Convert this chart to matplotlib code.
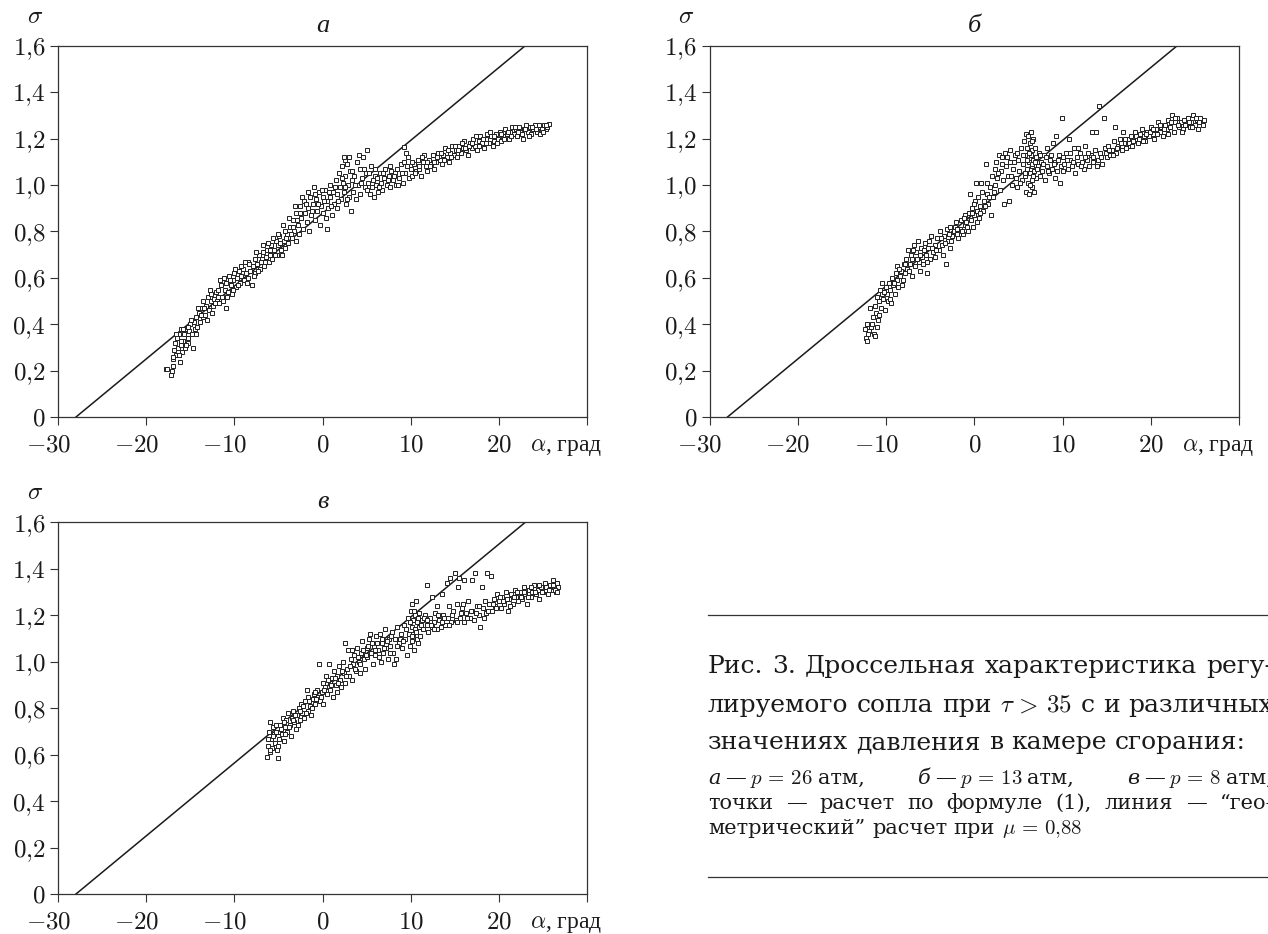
import numpy as np
import matplotlib.pyplot as plt
from matplotlib.lines import Line2D

plt.rcParams['mathtext.fontset'] = 'cm'
plt.rcParams['font.family'] = ['Liberation Serif', 'DejaVu Serif']

# geometric throttle line (same for all three pressures)
line_alpha = [-28.0, 23.0]
line_sigma = [0.0, 1.6]

alpha_ticks = [-30, -20, -10, 0, 10, 20]
sigma_ticks = [0, 0.2, 0.4, 0.6, 0.8, 1.0, 1.2, 1.4, 1.6]
sigma_labels = ['$0$', '$0{,}2$', '$0{,}4$', '$0{,}6$', '$0{,}8$',
                '$1{,}0$', '$1{,}2$', '$1{,}4$', '$1{,}6$']

# p = 26 atm: (alpha, sigma)
a_points = [
    (-17.8, 0.21), (-17.6, 0.21), (-17.2, 0.18), (-17.1, 0.20), (-16.9, 0.22), (-17.0, 0.25),
    (-16.8, 0.29), (-16.7, 0.32), (-16.6, 0.27), (-16.5, 0.34), (-16.4, 0.30), (-16.3, 0.36),
    (-16.2, 0.24), (-16.1, 0.31), (-16.0, 0.38), (-15.9, 0.28), (-15.8, 0.33), (-15.7, 0.36),
    (-15.6, 0.30), (-15.5, 0.38), (-15.3, 0.34), (-15.2, 0.32), (-15.1, 0.37), (-15.0, 0.40),
    (-14.7, 0.30), (-14.8, 0.36), (-14.6, 0.41), (-14.5, 0.38), (-14.3, 0.43), (-14.2, 0.39),
    (-14.0, 0.45), (-13.9, 0.41), (-13.7, 0.47), (-13.6, 0.43), (-13.5, 0.50), (-13.3, 0.44),
    (-13.2, 0.48), (-13.0, 0.52), (-12.9, 0.46), (-12.7, 0.50), (-12.6, 0.53), (-12.4, 0.48),
    (-12.3, 0.51), (-12.1, 0.54), (-12.0, 0.50), (-11.8, 0.55), (-11.7, 0.49), (-11.5, 0.57),
    (-11.4, 0.52), (-11.2, 0.60), (-11.1, 0.55), (-11.0, 0.47), (-10.9, 0.58), (-10.7, 0.54),
    (-10.6, 0.61), (-10.4, 0.57), (-10.3, 0.53), (-10.1, 0.59), (-10.0, 0.62), (-9.8, 0.56),
    (-9.7, 0.60), (-9.5, 0.63), (-9.4, 0.58), (-9.2, 0.61), (-9.0, 0.64), (-8.9, 0.59),
    (-8.7, 0.62), (-8.5, 0.67), (-8.4, 0.60), (-8.2, 0.63), (-8.0, 0.57), (-7.9, 0.65),
    (-7.7, 0.68), (-7.6, 0.62), (-7.4, 0.66), (-7.2, 0.70), (-7.1, 0.64), (-6.9, 0.68),
    (-6.8, 0.71), (-6.6, 0.65), (-6.4, 0.69), (-6.3, 0.72), (-6.1, 0.67), (-6.0, 0.70),
    (-5.8, 0.74), (-5.7, 0.68), (-5.5, 0.72), (-5.3, 0.76), (-5.2, 0.70), (-5.0, 0.74),
    (-4.9, 0.78), (-4.7, 0.72), (-4.5, 0.83), (-4.4, 0.76), (-4.2, 0.73), (-4.0, 0.79),
    (-3.9, 0.75), (-3.7, 0.82), (-3.5, 0.77), (-3.4, 0.85), (-3.2, 0.80), (-3.0, 0.76),
    (-3.0, 0.88), (-2.8, 0.83), (-2.7, 0.79), (-2.5, 0.91), (-2.4, 0.86), (-2.2, 0.81),
    (-2.1, 0.93), (-2.0, 0.88), (-1.8, 0.84), (-1.7, 0.90), (-1.5, 0.80), (-1.4, 0.95),
    (-1.3, 0.87), (-1.1, 0.92), (-1.0, 0.99), (-0.9, 0.85), (-0.7, 0.94), (-0.6, 0.89),
    (-0.4, 0.97), (-0.3, 0.83), (-0.2, 0.91), (0.0, 0.95), (0.1, 0.88), (0.5, 0.81),
    (0.3, 0.98), (0.5, 0.93), (0.6, 0.90), (0.8, 1.00), (0.9, 0.95), (1.1, 0.87),
    (1.2, 0.97), (1.3, 0.92), (1.5, 1.02), (1.6, 0.96), (1.7, 0.90), (1.9, 1.05),
    (2.0, 0.99), (2.1, 0.94), (2.2, 1.08), (2.3, 1.01), (2.4, 0.97), (2.5, 1.11),
    (2.6, 1.04), (2.7, 0.92), (2.8, 1.09), (2.9, 1.00), (3.0, 0.95), (3.1, 1.06),
    (3.2, 0.89), (3.3, 1.02), (3.5, 0.97), (3.6, 1.04), (3.8, 0.94), (3.9, 1.10),
    (4.0, 1.00), (4.2, 1.07), (4.3, 0.96), (4.5, 1.03), (4.6, 1.12), (4.8, 0.99),
    (4.9, 1.05), (5.0, 1.15), (5.2, 1.01), (5.4, 0.96), (5.5, 1.08), (5.7, 1.02),
    (5.8, 0.95), (6.0, 1.04), (6.1, 1.00), (6.3, 0.97), (6.5, 1.05), (6.6, 1.01),
    (6.8, 0.98), (7.0, 1.03), (7.1, 1.07), (7.3, 1.00), (7.5, 1.04), (7.6, 0.99),
    (7.8, 1.06), (8.0, 1.02), (8.2, 1.05), (8.3, 1.00), (8.5, 1.07), (8.7, 1.03),
    (8.9, 1.09), (9.1, 1.01), (9.2, 1.165), (9.4, 1.05), (9.5, 1.14), (9.6, 1.08),
    (9.8, 1.03), (10.0, 1.07), (10.2, 1.04), (10.4, 1.09), (10.6, 1.06), (10.8, 1.11),
    (11.0, 1.07), (11.2, 1.04), (11.4, 1.10), (11.5, 1.13), (11.7, 1.08), (11.9, 1.06),
    (12.1, 1.11), (12.3, 1.09), (12.5, 1.13), (12.7, 1.07), (12.9, 1.10), (13.1, 1.14),
    (13.3, 1.11), (13.5, 1.09), (13.7, 1.13), (13.9, 1.16), (14.1, 1.12), (14.3, 1.10),
    (14.5, 1.14), (14.7, 1.17), (14.9, 1.13), (15.1, 1.15), (15.3, 1.12), (15.5, 1.17),
    (15.7, 1.14), (15.9, 1.16), (16.1, 1.19), (16.3, 1.15), (16.5, 1.13), (16.7, 1.18),
    (16.9, 1.16), (17.1, 1.20), (17.3, 1.17), (17.5, 1.15), (17.7, 1.19), (17.9, 1.21),
    (18.1, 1.18), (18.3, 1.16), (18.5, 1.20), (18.7, 1.22), (18.9, 1.18), (19.1, 1.21),
    (19.3, 1.17), (19.5, 1.19), (19.7, 1.22), (19.9, 1.20), (20.1, 1.23), (20.3, 1.19),
    (20.5, 1.21), (20.7, 1.24), (20.9, 1.22), (21.1, 1.20), (21.3, 1.23), (21.5, 1.25),
    (21.7, 1.22), (21.9, 1.24), (22.1, 1.21), (22.3, 1.25), (22.5, 1.23), (22.7, 1.20),
    (22.9, 1.24), (23.1, 1.26), (23.3, 1.23), (23.5, 1.25), (23.7, 1.22), (23.9, 1.24),
    (24.1, 1.26), (24.3, 1.23), (24.5, 1.25), (24.7, 1.22), (24.9, 1.24), (25.1, 1.26),
    (25.3, 1.24), (25.5, 1.25), (25.7, 1.265),
    (-16.9, 0.26), (-16.6, 0.36), (-16.3, 0.27), (-16.0, 0.33), (-15.8, 0.38), (-15.5, 0.31),
    (-15.2, 0.39), (-14.9, 0.42), (-14.4, 0.36), (-14.1, 0.47), (-13.8, 0.44), (-13.4, 0.47),
    (-13.1, 0.42), (-12.8, 0.55), (-12.5, 0.45), (-12.2, 0.49), (-11.9, 0.52), (-11.6, 0.59),
    (-11.3, 0.50), (-10.8, 0.52), (-10.5, 0.59), (-10.2, 0.55), (-9.9, 0.64), (-9.6, 0.57),
    (-9.3, 0.65), (-8.8, 0.67), (-8.6, 0.58), (-8.3, 0.66), (-7.8, 0.61), (-7.5, 0.71),
    (-7.3, 0.63), (-7.0, 0.67), (-6.7, 0.74), (-6.5, 0.67), (-6.2, 0.75), (-5.9, 0.72),
    (-5.6, 0.77), (-5.4, 0.70), (-5.1, 0.79), (-4.8, 0.75), (-4.6, 0.70), (-4.3, 0.80),
    (-4.1, 0.77), (-3.8, 0.86), (-3.6, 0.79), (-3.3, 0.82), (-3.1, 0.91), (-2.9, 0.85),
    (-2.6, 0.88), (-2.3, 0.95), (-1.9, 0.92), (-1.6, 0.97), (-1.2, 0.89), (-0.8, 0.96),
    (-0.5, 0.92), (-0.1, 0.98), (0.2, 0.93), (0.4, 0.86), (0.7, 0.97), (1.0, 0.91),
    (1.4, 0.99), (1.8, 0.93), (2.2, 1.03), (2.4, 1.12), (2.6, 0.99), (2.8, 0.94),
    (3.0, 1.12), (3.4, 1.06), (3.7, 1.00), (4.1, 1.13), (4.4, 1.01), (4.7, 1.07),
    (5.1, 0.98), (5.3, 1.05), (5.6, 0.99), (5.9, 1.07), (6.2, 1.03), (6.4, 0.99),
    (6.9, 1.05), (7.4, 1.02), (7.7, 1.08), (8.1, 1.04), (8.6, 1.00), (9.0, 1.05),
    (9.3, 1.10), (9.7, 1.12), (10.1, 1.10), (10.5, 1.05), (10.9, 1.08), (11.3, 1.12),
    (11.8, 1.10), (12.2, 1.08), (12.6, 1.10), (13.0, 1.12), (13.4, 1.14), (13.8, 1.11),
    (14.2, 1.15), (14.6, 1.12), (15.0, 1.17), (15.4, 1.15), (15.8, 1.18), (16.2, 1.16),
    (16.6, 1.17), (17.0, 1.18), (17.4, 1.21), (17.8, 1.17), (18.2, 1.20), (18.6, 1.18),
    (19.0, 1.23), (19.4, 1.21), (19.8, 1.18), (20.2, 1.22), (20.6, 1.20), (21.0, 1.23),
    (21.4, 1.21), (21.8, 1.25), (22.2, 1.23), (22.6, 1.22), (23.0, 1.24), (23.4, 1.21),
    (23.8, 1.25), (24.2, 1.24), (24.6, 1.26), (25.0, 1.23), (25.4, 1.26),
]

# p = 13 atm
b_points = [
    (-12.4, 0.38), (-12.3, 0.34), (-12.2, 0.40), (-12.1, 0.33), (-11.9, 0.37), (-11.8, 0.47),
    (-11.7, 0.39), (-11.5, 0.43), (-11.4, 0.36), (-11.3, 0.48), (-11.2, 0.35), (-11.1, 0.45),
    (-11.0, 0.52), (-10.9, 0.42), (-10.8, 0.50), (-10.7, 0.55), (-10.6, 0.47), (-10.5, 0.53),
    (-10.4, 0.58), (-10.3, 0.51), (-10.1, 0.46), (-10.0, 0.56), (-9.9, 0.53), (-9.8, 0.50),
    (-9.7, 0.58), (-9.5, 0.55), (-9.4, 0.49), (-9.3, 0.60), (-9.2, 0.57), (-9.0, 0.53),
    (-8.9, 0.62), (-8.8, 0.59), (-8.7, 0.65), (-8.6, 0.56), (-8.4, 0.61), (-8.3, 0.63),
    (-8.1, 0.59), (-8.0, 0.66), (-7.9, 0.62), (-7.7, 0.68), (-7.6, 0.64), (-7.5, 0.72),
    (-7.3, 0.66), (-7.2, 0.70), (-7.1, 0.61), (-7.0, 0.68), (-6.8, 0.74), (-6.7, 0.65),
    (-6.6, 0.71), (-6.4, 0.76), (-6.3, 0.67), (-6.2, 0.63), (-6.0, 0.73), (-5.9, 0.69),
    (-5.8, 0.66), (-5.6, 0.75), (-5.5, 0.70), (-5.3, 0.62), (-5.2, 0.73), (-5.0, 0.68),
    (-4.9, 0.78), (-4.7, 0.71), (-4.5, 0.74), (-4.4, 0.69), (-4.2, 0.77), (-4.0, 0.72),
    (-3.9, 0.80), (-3.7, 0.74), (-3.5, 0.70), (-3.4, 0.78), (-3.2, 0.66), (-3.1, 0.81),
    (-3.0, 0.76), (-2.8, 0.73), (-2.7, 0.82), (-2.5, 0.78), (-2.3, 0.80), (-2.1, 0.84),
    (-2.0, 0.79), (-1.8, 0.77), (-1.6, 0.81), (-1.5, 0.85), (-1.3, 0.79), (-1.1, 0.83),
    (-1.0, 0.87), (-0.8, 0.82), (-0.6, 0.88), (-0.5, 0.96), (-0.4, 0.85), (-0.2, 0.90),
    (-0.1, 0.82), (0.0, 0.87), (0.1, 0.93), (0.2, 1.01), (0.3, 0.89), (0.4, 0.95),
    (0.5, 0.86), (0.6, 0.91), (0.8, 1.01), (0.9, 0.97), (1.0, 0.89), (1.1, 0.93),
    (1.3, 1.09), (1.4, 0.96), (1.5, 1.01), (1.6, 0.92), (1.8, 0.99), (1.9, 0.87),
    (2.0, 1.04), (2.1, 0.95), (2.3, 1.07), (2.4, 1.00), (2.5, 1.10), (2.6, 1.03),
    (2.8, 1.13), (2.9, 0.98), (3.0, 1.06), (3.2, 1.12), (3.3, 1.02), (3.4, 0.92),
    (3.5, 1.14), (3.6, 1.08), (3.8, 1.04), (3.9, 0.93), (4.0, 1.15), (4.1, 1.10),
    (4.3, 1.00), (4.4, 1.07), (4.6, 1.13), (4.7, 1.03), (4.9, 0.99), (5.0, 1.11),
    (5.1, 1.06), (5.3, 1.16), (5.4, 1.02), (5.5, 1.09), (5.6, 1.19), (5.7, 1.04),
    (5.8, 1.13), (5.9, 0.97), (5.9, 1.22), (6.0, 1.07), (6.0, 1.16), (6.1, 1.01),
    (6.1, 1.21), (6.2, 1.10), (6.2, 0.96), (6.3, 1.18), (6.3, 1.05), (6.4, 1.13),
    (6.4, 1.23), (6.5, 0.99), (6.5, 1.08), (6.6, 1.15), (6.6, 1.02), (6.7, 1.20),
    (6.7, 1.11), (6.8, 0.97), (6.8, 1.06), (6.9, 1.16), (7.0, 1.03), (7.0, 1.12),
    (7.2, 1.08), (7.3, 1.14), (7.4, 1.04), (7.6, 1.10), (7.7, 1.06), (7.9, 1.13),
    (8.0, 1.02), (8.2, 1.08), (8.3, 1.16), (8.5, 1.05), (8.6, 1.11), (8.8, 1.07),
    (8.9, 1.18), (9.1, 1.03), (9.2, 1.10), (9.3, 1.21), (9.4, 1.06), (9.6, 1.13),
    (9.7, 1.01), (9.8, 1.08), (9.9, 1.29), (10.0, 1.12), (10.2, 1.09), (10.4, 1.14),
    (10.6, 1.07), (10.7, 1.20), (10.9, 1.11), (11.1, 1.08), (11.3, 1.16), (11.4, 1.05),
    (11.6, 1.12), (11.8, 1.09), (12.0, 1.14), (12.2, 1.10), (12.4, 1.07), (12.6, 1.17),
    (12.8, 1.11), (13.0, 1.08), (13.2, 1.13), (13.3, 1.23), (13.5, 1.10), (13.7, 1.15),
    (13.8, 1.23), (14.0, 1.11), (14.1, 1.34), (14.3, 1.14), (14.5, 1.09), (14.7, 1.29),
    (14.8, 1.16), (15.0, 1.12), (15.2, 1.17), (15.4, 1.13), (15.6, 1.15), (15.8, 1.19),
    (16.0, 1.25), (16.1, 1.14), (16.3, 1.17), (16.5, 1.20), (16.7, 1.15), (16.9, 1.23),
    (17.0, 1.18), (17.2, 1.16), (17.4, 1.20), (17.6, 1.17), (17.8, 1.21), (18.0, 1.19),
    (18.2, 1.23), (18.4, 1.20), (18.6, 1.18), (18.8, 1.22), (19.0, 1.24), (19.2, 1.21),
    (19.4, 1.19), (19.6, 1.23), (19.8, 1.21), (20.0, 1.25), (20.2, 1.22), (20.4, 1.20),
    (20.6, 1.24), (20.8, 1.27), (21.0, 1.23), (21.2, 1.25), (21.4, 1.21), (21.6, 1.26),
    (21.8, 1.24), (22.0, 1.28), (22.2, 1.25), (22.4, 1.30), (22.6, 1.23), (22.8, 1.27),
    (23.0, 1.29), (23.2, 1.25), (23.4, 1.27), (23.6, 1.24), (23.8, 1.28), (24.0, 1.26),
    (24.2, 1.29), (24.4, 1.25), (24.6, 1.27), (24.8, 1.30), (25.0, 1.26), (25.2, 1.28),
    (25.4, 1.24), (25.6, 1.29), (25.8, 1.27), (26.0, 1.28),
    (-12.0, 0.36), (-11.6, 0.40), (-11.0, 0.39), (-10.8, 0.44), (-10.2, 0.54), (-9.6, 0.51),
    (-9.1, 0.58), (-8.5, 0.64), (-8.2, 0.57), (-7.8, 0.66), (-7.4, 0.63), (-6.9, 0.72),
    (-6.5, 0.68), (-6.1, 0.70), (-5.7, 0.72), (-5.4, 0.67), (-5.1, 0.76), (-4.8, 0.73),
    (-4.3, 0.72), (-3.8, 0.77), (-3.3, 0.75), (-2.9, 0.79), (-2.6, 0.76), (-2.2, 0.82),
    (-1.9, 0.81), (-1.4, 0.80), (-1.2, 0.86), (-0.9, 0.84), (-0.7, 0.80), (-0.3, 0.88),
    (0.0, 0.92), (0.3, 0.84), (0.7, 0.88), (1.2, 0.91), (1.7, 0.95), (2.2, 0.97),
    (2.7, 1.05), (3.1, 1.09), (3.7, 1.12), (4.2, 1.04), (4.5, 1.10), (4.8, 1.14),
    (5.2, 1.01), (5.5, 1.13), (5.8, 1.05), (6.0, 1.11), (6.2, 1.14), (6.3, 1.00),
    (6.5, 1.19), (6.6, 1.09), (6.7, 1.04), (6.9, 1.10), (7.1, 1.07), (7.5, 1.13),
    (7.8, 1.09), (8.1, 1.12), (8.4, 1.06), (8.7, 1.13), (9.0, 1.09), (9.5, 1.11),
    (10.1, 1.06), (10.5, 1.11), (10.8, 1.14), (11.2, 1.10), (11.7, 1.16), (12.1, 1.08),
    (12.5, 1.12), (12.9, 1.14), (13.4, 1.12), (13.9, 1.08), (14.4, 1.12), (14.9, 1.14),
    (15.3, 1.15), (15.7, 1.13), (16.2, 1.16), (16.6, 1.18), (17.1, 1.20), (17.5, 1.18),
    (17.9, 1.17), (18.3, 1.21), (18.7, 1.20), (19.1, 1.19), (19.5, 1.22), (19.9, 1.23),
    (20.3, 1.24), (20.7, 1.22), (21.1, 1.26), (21.5, 1.24), (21.9, 1.22), (22.3, 1.27),
    (22.7, 1.29), (23.1, 1.26), (23.5, 1.23), (23.9, 1.26), (24.3, 1.27), (24.7, 1.25),
    (25.1, 1.29), (25.5, 1.27), (25.9, 1.26),
]

# p = 8 atm
c_points = [
    (-6.3, 0.59), (-6.2, 0.64), (-6.1, 0.70), (-6.0, 0.61), (-5.9, 0.74), (-5.8, 0.67),
    (-5.7, 0.63), (-5.6, 0.72), (-5.5, 0.69), (-5.4, 0.65), (-5.3, 0.73), (-5.2, 0.62),
    (-5.1, 0.585), (-5.0, 0.70), (-4.9, 0.67), (-4.8, 0.73), (-4.6, 0.69), (-4.5, 0.76),
    (-4.4, 0.66), (-4.3, 0.72), (-4.1, 0.75), (-4.0, 0.70), (-3.9, 0.78), (-3.7, 0.73),
    (-3.6, 0.68), (-3.5, 0.76), (-3.3, 0.79), (-3.2, 0.74), (-3.0, 0.71), (-2.9, 0.77),
    (-2.7, 0.80), (-2.6, 0.75), (-2.4, 0.82), (-2.3, 0.78), (-2.1, 0.76), (-2.0, 0.83),
    (-1.8, 0.88), (-1.7, 0.79), (-1.6, 0.85), (-1.4, 0.81), (-1.3, 0.77), (-1.1, 0.84),
    (-1.0, 0.86), (-0.8, 0.82), (-0.6, 0.88), (-0.5, 0.85), (-0.4, 0.99), (-0.3, 0.83),
    (-0.1, 0.87), (0.0, 0.91), (0.1, 0.82), (0.3, 0.89), (0.4, 0.94), (0.5, 0.86),
    (0.7, 0.99), (0.8, 0.91), (0.9, 0.88), (1.1, 0.93), (1.2, 0.85), (1.3, 0.96),
    (1.5, 0.90), (1.6, 0.94), (1.7, 0.87), (1.9, 0.98), (2.0, 0.92), (2.1, 0.89),
    (2.3, 1.00), (2.4, 0.95), (2.5, 1.08), (2.6, 0.91), (2.8, 0.97), (2.9, 1.05),
    (3.0, 0.94), (3.2, 1.01), (3.3, 0.92), (3.5, 0.99), (3.6, 1.03), (3.8, 0.96),
    (3.9, 1.06), (4.1, 1.00), (4.2, 0.95), (4.4, 1.04), (4.5, 1.09), (4.7, 1.01),
    (4.8, 0.97), (5.0, 1.06), (5.1, 1.02), (5.3, 1.10), (5.4, 1.12), (5.5, 1.04),
    (5.7, 0.99), (5.8, 1.07), (6.0, 1.03), (6.1, 1.11), (6.3, 1.05), (6.5, 1.12),
    (6.6, 1.00), (6.8, 1.08), (6.9, 1.04), (7.1, 1.14), (7.2, 1.06), (7.4, 1.01),
    (7.5, 1.10), (7.7, 1.07), (7.9, 1.13), (8.0, 1.04), (8.1, 0.99), (8.2, 1.10),
    (8.3, 1.01), (8.5, 1.15), (8.7, 1.08), (8.9, 1.12), (9.0, 1.06), (9.2, 1.16),
    (9.4, 1.10), (9.6, 1.03), (9.7, 1.19), (9.8, 1.12), (9.9, 1.07), (10.0, 1.22),
    (10.1, 1.15), (10.1, 1.09), (10.2, 1.25), (10.3, 1.18), (10.3, 1.12), (10.4, 1.05),
    (10.5, 1.20), (10.5, 1.14), (10.6, 1.26), (10.7, 1.10), (10.7, 1.17), (10.8, 1.08),
    (10.9, 1.21), (11.0, 1.15), (11.1, 1.11), (11.3, 1.18), (11.4, 1.14), (11.6, 1.20),
    (11.8, 1.33), (11.8, 1.16), (12.0, 1.13), (12.2, 1.19), (12.4, 1.28), (12.4, 1.15),
    (12.6, 1.17), (12.8, 1.21), (13.0, 1.24), (13.0, 1.14), (13.2, 1.18), (13.4, 1.15),
    (13.6, 1.29), (13.7, 1.20), (13.9, 1.16), (14.1, 1.34), (14.2, 1.19), (14.3, 1.24),
    (14.5, 1.36), (14.6, 1.17), (14.8, 1.22), (15.0, 1.38), (15.1, 1.18), (15.2, 1.25),
    (15.4, 1.32), (15.5, 1.36), (15.6, 1.19), (15.8, 1.23), (16.0, 1.17), (16.1, 1.35),
    (16.3, 1.21), (16.5, 1.26), (16.7, 1.19), (16.9, 1.35), (17.0, 1.22), (17.2, 1.18),
    (17.3, 1.38), (17.5, 1.24), (17.7, 1.20), (17.9, 1.15), (18.1, 1.32), (18.2, 1.23),
    (18.4, 1.26), (18.6, 1.21), (18.7, 1.38), (18.9, 1.25), (19.1, 1.37), (19.2, 1.22),
    (19.4, 1.27), (19.6, 1.24), (19.8, 1.29), (20.0, 1.26), (20.2, 1.23), (20.4, 1.28),
    (20.6, 1.25), (20.8, 1.30), (21.0, 1.22), (21.2, 1.27), (21.4, 1.29), (21.6, 1.25),
    (21.8, 1.31), (22.0, 1.28), (22.2, 1.26), (22.4, 1.30), (22.6, 1.27), (22.8, 1.32),
    (23.0, 1.29), (23.2, 1.25), (23.4, 1.31), (23.6, 1.28), (23.8, 1.30), (24.0, 1.33),
    (24.2, 1.29), (24.4, 1.31), (24.6, 1.27), (24.8, 1.32), (25.0, 1.30), (25.2, 1.34),
    (25.4, 1.31), (25.6, 1.29), (25.8, 1.33), (26.0, 1.31), (26.2, 1.35), (26.3, 1.32),
    (26.5, 1.30), (26.6, 1.34), (26.7, 1.32),
    (-6.2, 0.67), (-5.9, 0.62), (-5.6, 0.68), (-5.3, 0.70), (-5.0, 0.64), (-4.7, 0.71),
    (-4.4, 0.74), (-4.2, 0.69), (-3.8, 0.72), (-3.4, 0.75), (-3.1, 0.77), (-2.8, 0.73),
    (-2.5, 0.79), (-2.2, 0.81), (-1.9, 0.78), (-1.5, 0.83), (-1.2, 0.80), (-0.9, 0.87),
    (-0.7, 0.84), (-0.2, 0.85), (0.2, 0.88), (0.6, 0.92), (1.0, 0.90), (1.4, 0.93),
    (1.8, 0.91), (2.2, 0.96), (2.7, 0.94), (3.1, 0.98), (3.4, 1.05), (3.7, 0.97),
    (4.0, 1.02), (4.3, 0.99), (4.6, 1.05), (4.9, 1.03), (5.2, 1.07), (5.6, 1.08),
    (5.9, 1.05), (6.2, 1.08), (6.4, 1.02), (6.7, 1.10), (7.0, 1.06), (7.3, 1.09),
    (7.6, 1.04), (7.8, 1.11), (8.4, 1.07), (8.8, 1.10), (9.1, 1.09), (9.5, 1.14),
    (9.9, 1.17), (10.2, 1.11), (10.4, 1.22), (10.6, 1.13), (10.8, 1.19), (11.2, 1.16),
    (11.5, 1.19), (11.9, 1.18), (12.3, 1.16), (12.7, 1.14), (13.1, 1.20), (13.5, 1.17),
    (13.8, 1.19), (14.4, 1.16), (14.7, 1.20), (15.3, 1.17), (15.7, 1.21), (15.9, 1.25),
    (16.4, 1.19), (16.8, 1.22), (17.4, 1.21), (17.8, 1.24), (18.3, 1.19), (18.8, 1.22),
    (19.3, 1.25), (19.7, 1.23), (20.1, 1.28), (20.5, 1.26), (20.9, 1.27), (21.3, 1.24),
    (21.7, 1.28), (22.1, 1.30), (22.5, 1.28), (22.9, 1.30), (23.3, 1.28), (23.7, 1.32),
    (24.1, 1.30), (24.5, 1.33), (24.9, 1.30), (25.3, 1.32), (25.7, 1.31), (26.1, 1.33),
    (26.4, 1.31), (26.6, 1.30),
]

W, H = 1268, 934
fig = plt.figure(figsize=(W / 100, H / 100), dpi=100)
renderer = fig.canvas.get_renderer()
ink = '#1a1a1a'
tick_size = 18
label_base = -34  # baseline of x tick labels, px below the axis


def add_panel(left, top, right, bottom, pts, letter):
    ax = fig.add_axes([left / W, 1 - bottom / H, (right - left) / W, (bottom - top) / H])
    ax.plot(line_alpha, line_sigma, color=ink, lw=1.1, zorder=1)
    x, y = np.array(pts).T
    ax.plot(x, y, ls='none', marker='s', ms=3.3, mfc='white', mec='#202020',
            mew=0.7, zorder=2, clip_on=False)
    ax.set_xlim(-30, 30)
    ax.set_ylim(0, 1.6)
    ax.set_xticks(alpha_ticks + [30])
    ax.set_xticklabels([])
    ax.set_yticks(sigma_ticks)
    ax.set_yticklabels(sigma_labels)
    for sp in ax.spines.values():
        sp.set_linewidth(0.9)
        sp.set_color('#333333')
    ax.tick_params(direction='out', length=6, width=0.8, color='#333333',
                   labelsize=tick_size, labelcolor=ink, pad=3)
    # x labels: digits centred on the tick, minus sign hanging to the left
    for v in alpha_ticks:
        s = '$%d$' % v
        dx = 0
        if v < 0:
            full = fig.text(0, 0, s, fontsize=tick_size)
            digits = fig.text(0, 0, '$%d$' % -v, fontsize=tick_size)
            dx = -(full.get_window_extent(renderer).width
                   - digits.get_window_extent(renderer).width) / 2
            full.remove()
            digits.remove()
        ax.annotate(s, xy=(v, 0), xycoords=('data', 'axes fraction'), xytext=(dx, label_base),
                    textcoords='offset pixels', ha='center', va='baseline',
                    fontsize=tick_size, color=ink, annotation_clip=False)
    ax.annotate(r'$\alpha$, град', xy=(1, 0), xycoords='axes fraction',
                xytext=(-57, label_base), textcoords='offset pixels', ha='left',
                va='baseline', fontsize=17, color=ink)
    ax.annotate(r'$\sigma$', xy=(0, 1), xycoords='axes fraction', xytext=(-23, 29),
                textcoords='offset pixels', ha='center', va='center', fontsize=18, color=ink)
    ax.annotate(letter, xy=(0.5, 1), xycoords='axes fraction', xytext=(0, 20),
                textcoords='offset pixels', ha='center', va='center', fontsize=19,
                style='italic', color=ink)
    return ax


add_panel(58, 45.7, 587, 417.3, a_points, 'а')
add_panel(709.5, 45.7, 1239, 417.3, b_points, 'б')
add_panel(58, 522.3, 587, 894.3, c_points, 'в')

# caption block; the justified lines run on past the right edge of the page
cap_left, cap_right = 708, 1273
cap_font = 'DejaVu Serif'
for yr in (615, 877):
    fig.add_artist(Line2D([cap_left / W, 1.0], [1 - yr / H] * 2, transform=fig.transFigure,
                          color='#333333', lw=0.9))


def caption_line(y_px, words, size, justify):
    """words: list of words, each a list of (text, style) pieces set close together."""
    px = size * 100 / 72
    tight = 0.22 * px
    placed = []
    total = 0
    for word in words:
        parts = []
        for s, st in word:
            t = fig.text(0, 1 - y_px / H, s, fontsize=size, style=st, family=cap_font,
                         ha='left', va='baseline', color=ink)
            w = t.get_window_extent(renderer).width
            parts.append((t, w))
            total += w
        total += tight * (len(parts) - 1)
        placed.append(parts)
    if justify:
        gap = (cap_right - cap_left - total) / (len(placed) - 1)
    else:
        gap = 0.32 * px
    x = cap_left
    for parts in placed:
        for i, (t, w) in enumerate(parts):
            t.set_x(x / W)
            x += w + (tight if i < len(parts) - 1 else 0)
        x += gap


def plain(text):
    return [[(w, 'normal')] for w in text.split()]


big = 18
small = 15
caption_line(673, plain('Рис. 3. Дроссельная характеристика регу-'), big, True)
caption_line(712, plain('лируемого сопла при') + [[(r'$\tau\,>\,35$', 'normal')]]
             + plain('с и различных'), big, True)
caption_line(749, plain('значениях давления в камере сгорания:'), big, False)
caption_line(784, [[('а', 'italic'), ('—', 'normal'), (r'$p\,=\,26$', 'normal'), ('атм,', 'normal')],
                   [('б', 'italic'), ('—', 'normal'), (r'$p\,=\,13$', 'normal'), ('атм,', 'normal')],
                   [('в', 'italic'), ('—', 'normal'), (r'$p\,=\,8$', 'normal'), ('атм,', 'normal')]],
             small, True)
caption_line(809, plain('точки — расчет по формуле (1), линия — “гео-'), small, True)
caption_line(834, plain('метрический” расчет при') + [[(r'$\mu\,=\,0{,}88$', 'normal')]],
             small, False)

fig.savefig('out.png', dpi=100)
